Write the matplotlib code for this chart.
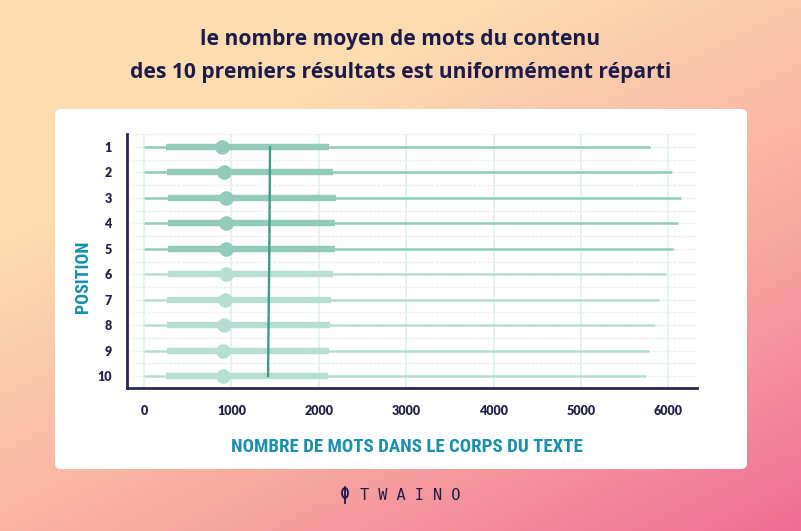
import numpy as np
import matplotlib
matplotlib.use("Agg")
import matplotlib.pyplot as plt
from matplotlib import font_manager as fm
from matplotlib.patches import FancyBboxPatch, Ellipse

# ---- data ----
positions = [1, 2, 3, 4, 5, 6, 7, 8, 9, 10]
mins = [0, 0, 0, 0, 0, 0, 0, 0, 0, 0]
q1 = [250, 263, 275, 275, 275, 275, 263, 263, 263, 250]
medians = [890, 915, 938, 938, 938, 938, 927, 915, 904, 904]
q3 = [2117, 2165, 2197, 2185, 2180, 2162, 2140, 2128, 2117, 2105]
maxs = [5790, 6041, 6144, 6110, 6053, 5973, 5892, 5847, 5778, 5744]
means = [1442, 1440, 1438, 1436, 1434, 1431, 1428, 1425, 1422, 1420]
xticks = [0, 1000, 2000, 3000, 4000, 5000, 6000]

title = "le nombre moyen de mots du contenu\ndes 10 premiers résultats est uniformément réparti"
xlabel = "NOMBRE DE MOTS DANS LE CORPS DU TEXTE"
ylabel = "POSITION"

# pick a condensed font if one is installed
entries = fm.fontManager.ttflist
names = {f.name for f in entries}
cond_kw = {"family": "DejaVu Sans"}
narrow_ok = False
for cand in ["Liberation Sans Narrow", "Roboto Condensed", "Open Sans Condensed",
             "DejaVu Sans Condensed"]:
    if cand in names:
        cond_kw = {"family": cand}
        narrow_ok = True
        break
if not narrow_ok:
    if any(f.name == "DejaVu Sans" and f.stretch == "condensed" for f in entries):
        cond_kw = {"family": "DejaVu Sans", "stretch": "condensed"}
        narrow_ok = True
xl_fs = 13.6 if narrow_ok else 11.5
yl_fs = 13.0 if narrow_ok else 11

W, H = 801, 531
fig = plt.figure(figsize=(W / 100, H / 100), dpi=100)

# background gradient
bg = fig.add_axes([0, 0, 1, 1])
bg.set_axis_off()
yy, xx = np.mgrid[0:H, 0:W]
t = (xx / W * 0.55 + yy / H * 0.75)
t = np.clip((t - 0.35) / 0.95, 0, 1)
c0 = np.array([253, 220, 176]) / 255
c1 = np.array([248, 168, 160]) / 255
c2 = np.array([240, 108, 150]) / 255
img = np.where(t[..., None] < 0.55,
               c0 + (c1 - c0) * (t[..., None] / 0.55),
               c1 + (c2 - c1) * ((t[..., None] - 0.55) / 0.45))
bg.imshow(img, extent=[0, W, H, 0], aspect="auto")
bg.set_xlim(0, W)
bg.set_ylim(H, 0)

card = FancyBboxPatch((55 + 6, 109 + 6), 692 - 12, 360 - 12,
                      boxstyle="round,pad=6", fc="white", ec="none")
bg.add_patch(card)

# title
fig.text(0.5, 1 - 56 / H, title, ha="center", va="center",
         fontsize=15.1, fontweight="bold", family="Open Sans",
         color="#1c1a4b", linespacing=1.75)

# logo
bg.add_patch(Ellipse((345, 493), 6, 10, fc="none", ec="#1c1a4b", lw=1.3))
bg.plot([345, 345], [487, 503], color="#1c1a4b", lw=1.3)
fig.text(410 / W, 1 - 496 / H, "T W A I N O", ha="center", va="center",
         fontsize=11, family="DejaVu Sans Mono", color="#1c1a4b")

# main axes
left, right, top, bottom = 127, 697, 134, 388
ax = fig.add_axes([left / W, 1 - bottom / H, (right - left) / W, (bottom - top) / H])
ax.set_facecolor("none")
scale = 87.4 / 1000
ax.set_xlim(-17 / scale, (right - left - 17) / scale)
ax.set_ylim(10.47, 0.49)

grid_c = "#e6f2ee"
for xv in xticks:
    ax.axvline(xv, color=grid_c, lw=1.4, zorder=0)
for yv in np.arange(0.5, 10.51, 0.5):
    ax.axhline(yv, color=grid_c, lw=1.0, ls=(0, (2, 1)), zorder=0)

dark = "#92cbb9"
light = "#b7ded2"
for i, p in enumerate(positions):
    c = dark if i < 5 else light
    ax.plot([mins[i], maxs[i]], [p, p], color=c, lw=1.8, solid_capstyle="butt", zorder=2)
    ax.plot([q1[i], q3[i]], [p, p], color=c, lw=4.6, solid_capstyle="butt", zorder=3)
    ax.plot([medians[i]], [p], "o", color=c, ms=10.5, mec="none", zorder=4)

ax.plot(means, positions, color="#3c9d84", lw=1.7, zorder=5)

for s in ["top", "right"]:
    ax.spines[s].set_visible(False)
for s in ["left", "bottom"]:
    ax.spines[s].set_color("#2a2858")
    ax.spines[s].set_linewidth(2)

ax.set_xticks(xticks)
ax.set_xticklabels([str(x) for x in xticks])
ax.set_yticks(positions)
ax.set_yticklabels([str(p) for p in positions])
ax.tick_params(length=0, colors="#22204d", labelsize=9)
ax.tick_params(axis="x", pad=12)
ax.tick_params(axis="y", pad=11)
for lab in ax.get_xticklabels() + ax.get_yticklabels():
    lab.set_fontweight("heavy")
    lab.set_family("Lato")

fig.text(407 / W, 1 - 447 / H, xlabel, ha="center", va="center",
         fontsize=xl_fs, fontweight="bold", color="#1a8fae", **cond_kw)
fig.text(83 / W, 1 - 277 / H, ylabel, ha="center", va="center", rotation=90,
         fontsize=yl_fs, fontweight="bold", color="#1a8fae", **cond_kw)

fig.savefig("out.png", dpi=100)
